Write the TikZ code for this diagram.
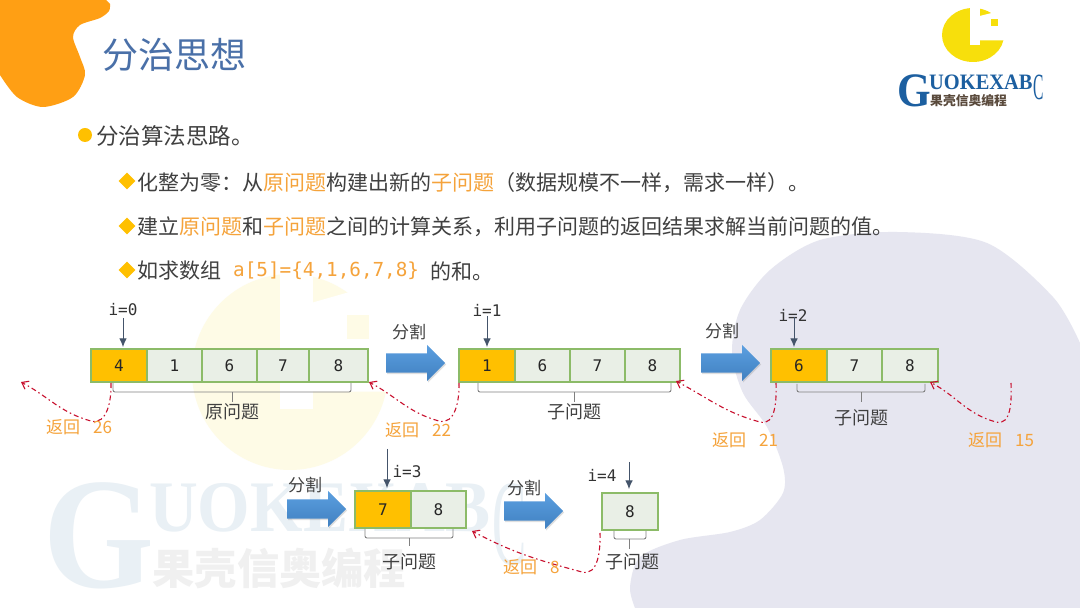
\documentclass[tikz,border=0pt]{standalone}
\usepackage{fontspec}
\setmainfont{Noto Sans CJK SC}
\setmonofont{DejaVu Sans Mono}
\newfontfamily\logofont{Liberation Serif}
\usepackage{xcolor}
\usetikzlibrary{arrows,arrows.meta}
\usetikzlibrary{shapes.arrows,shapes.geometric,shadows}
\tikzset{>=latex}
\definecolor{blobgrey}{HTML}{E6E6F0}
\definecolor{bloborange}{HTML}{FF9F14}
\definecolor{titleblue}{HTML}{4A70A8}
\definecolor{bodygrey}{HTML}{404040}
\definecolor{markyellow}{HTML}{FFC000}
\definecolor{hotorange}{HTML}{F5A33B}
\definecolor{cellgreen}{HTML}{E9EFE6}
\definecolor{edgegreen}{HTML}{8CBB68}
\definecolor{ptrblue}{HTML}{44546A}
\definecolor{retred}{HTML}{C8102E}
\definecolor{cuttop}{HTML}{5B9FE0}
\definecolor{cutbottom}{HTML}{4080C0}
\definecolor{wmblue}{HTML}{E9F0F5}
\definecolor{wmgrey}{HTML}{F0F0F0}
\definecolor{wmyellow}{HTML}{FEFBE6}
\definecolor{logoblue}{HTML}{1C5FA0}
\definecolor{logogrey}{HTML}{5A4A3C}
\definecolor{logoyellow}{HTML}{F7DF0C}
\tikzset{
  bodyline/.style={anchor=west, inner sep=0pt, text=bodygrey, font=\fontsize{21}{24}\selectfont},
  cellbox/.style={draw=edgegreen, line width=1.3pt, fill=cellgreen, inner sep=0pt, outer sep=0pt, text=black!85, font=\ttfamily\fontsize{16}{18}\selectfont},
  curbox/.style={cellbox, fill=markyellow},
  ptrlabel/.style={inner sep=0pt, text=black!80, font=\ttfamily\fontsize{16}{18}\selectfont},
  ptrline/.style={ptrblue, line width=0.9pt, -{Latex[length=8.5pt,width=7.5pt]}},
  cutlabel/.style={inner sep=0pt, text=bodygrey, font=\fontsize{17}{20}\selectfont},
  sublabel/.style={cutlabel, font=\fontsize{18}{20}\selectfont},
  retlabel/.style={inner sep=0pt, anchor=west, text=hotorange, font=\fontsize{17}{20}\selectfont},
  retline/.style={retred, line width=1.1pt, dash pattern=on 5pt off 3pt on 1.5pt off 3pt, -{Straight Barb[length=6pt,width=9pt]}},
  bracket/.style={draw=gray, line width=0.9pt, rounded corners=2pt},
  blockarrow/.style={shape=single arrow, anchor=tail, single arrow tip angle=90, single arrow head extend=8.5pt,
    minimum height=59pt, minimum width=36pt, inner xsep=0pt, inner ysep=9.5pt, top color=cuttop, bottom color=cutbottom,
    drop shadow={shadow xshift=1pt, shadow yshift=-1.5pt, opacity=.25, fill=gray}}
}
% dashed way back: start, lowest point, end
\newcommand{\returnline}[3]{
   \draw[retline] (#1) to[out=-88,in=-15] (#2) to[out=165,in=-28] (#3);
}
% square brace under an array
\newcommand{\subbrace}[6]{
   \draw[bracket] (#1,#3) -- (#1,#4) -- (#2,#4) -- (#2,#3);
   \draw[gray, line width=0.9pt] (#5,#4) -- (#5,#6);
}
% disc of the logo with its notch
\newcommand{\logodisc}[4]{
   \begin{scope}[shift={(#1)}, xscale=#2, yscale=#3]
     \fill[#4] (0,0) circle (1);
     \fill[white] (-0.1,1.02) rectangle (0.23,-0.38);
     \fill[white] (0.2,0.7) -- (0.62,0.82) -- (1.05,0.7) -- (1.05,-0.2) -- (0.2,-0.2) -- cycle;
     \fill[#4] (0.58,0.58) rectangle (0.81,0.34);
   \end{scope}
}
% lettering of the logo: prefix, origin, scale, blue, grey
\newcommand{\logotext}[5]{
   \begin{scope}[shift={(#2)}, scale=#3, transform shape]
     \node[anchor=base west, inner sep=0pt, text=#4, xscale=.9, font=\logofont\bfseries\fontsize{48}{50}\selectfont] (#1g) at (0,0) {G};
     \node[anchor=base west, inner sep=0pt, text=#4, xscale=.93, font=\logofont\bfseries\fontsize{22}{24}\selectfont] (#1u) at (32,17) {UOKEXAB};
     \node[anchor=base west, inner sep=0pt, text=#4, xscale=.42, font=\logofont\fontsize{37}{40}\selectfont] (#1c) at (136,7) {C};
     \node[anchor=west, inner sep=0pt, text=#5, font=\bfseries\fontsize{12.8}{14}\selectfont] (#1n) at (33,6) {果壳信奥编程};
   \end{scope}
}

\begin{document}
\begin{tikzpicture}[x=1pt,y=1pt]
		\useasboundingbox (0,0) rectangle (1080,608);
		\fill[white] (0,0) rectangle (1080,608);

		% Background
		\fill[blobgrey] plot[smooth] coordinates {(1080,265) (1053,311) (987,365) (897,376) (820,368) (770,338) (740,298) (732,255) (743,215) (767,181) (783,141) (783,115) (760,88) (730,76) (680,68) (640,51) (630,21) (635,0)} -- (1080,0) -- cycle;
		\fill[bloborange] (0,608) -- (106,608) -- plot[smooth] coordinates {(110,604) (109,597) (100,590) (80,583) (73,571) (80,551) (85,533) (73,511) (43,501) (17,511) (0,533)} -- cycle;
		\logodisc{290,236}{98}{98}{wmyellow}
		\logotext{wm}{43,20}{3.3}{wmblue}{wmgrey}

		% Logo
		\logodisc{973,573}{31}{27}{logoyellow}
		\logotext{lg}{897,501}{1}{logoblue}{logogrey}

		% Title and text
		\node[anchor=west, inner sep=0pt, text=titleblue, font=\fontsize{36}{40}\selectfont] (title) at (102,553) {分治思想};
		\node[circle, fill=markyellow, minimum size=14pt, inner sep=0pt] (dot) at (85,473) {};
		\node[bodyline, font=\fontsize{22.5}{26}\selectfont] (head) at (96,472) {分治算法思路。};
		\node[diamond, fill=markyellow, minimum size=17pt, inner sep=0pt] (dm1) at (127,427) {};
		\node[diamond, fill=markyellow, minimum size=17pt, inner sep=0pt] (dm2) at (127,382) {};
		\node[diamond, fill=markyellow, minimum size=17pt, inner sep=0pt] (dm3) at (127,338) {};
		\node[bodyline] (line1) at (137,425) {化整为零^^^^ff1a从\textcolor{hotorange}{原问题}构建出新的\textcolor{hotorange}{子问题}^^^^ff08数据规模不一样^^^^ff0c需求一样^^^^ff09。};
		\node[bodyline] (line2) at (137,381) {建立\textcolor{hotorange}{原问题}和\textcolor{hotorange}{子问题}之间的计算关系^^^^ff0c利用子问题的返回结果求解当前问题的值。};
		\node[bodyline] (line3) at (137,337) {如求数组};
		\node[bodyline, text=hotorange, font=\ttfamily\fontsize{19.3}{22}\selectfont] (code) at (233,337) {a[5]=\{4,1,6,7,8\}};
		\node[bodyline] (line3b) at (430,337) {的和。};

		% Arrays
		\foreach \nm/\xa/\xb/\val in {a1/147/202/1,a2/202/257/6,a3/257/309/7,a4/309/368/8,
		  b1/515/570/6,b2/570/625/7,b3/625/680/8,c1/827/882/7,c2/882/938/8}
		  \node[cellbox, minimum width={(\xb-\xa)*1pt}, minimum height=33pt] (\nm) at ({(\xa+\xb)/2},242.5) {\val};
		\foreach \nm/\xa/\xb/\val in {a0/91/147/4,b0/459/515/1,c0/771/827/6}
		  \node[curbox, minimum width={(\xb-\xa)*1pt}, minimum height=33pt] (\nm) at ({(\xa+\xb)/2},242.5) {\val};
		\node[cellbox, minimum width=55pt, minimum height=37pt] (d1) at (438.5,98.5) {8};
		\node[curbox, minimum width=56pt, minimum height=37pt] (d0) at (383,98.5) {7};
		\node[cellbox, minimum width=56pt, minimum height=37pt] (e0) at (630,96.5) {8};

		% Split arrows
		\node[blockarrow] (cut1) at (386,245) {};
		\node[blockarrow] (cut2) at (701,245) {};
		\node[blockarrow] (cut3) at (287,99) {};
		\node[blockarrow] (cut4) at (504,97) {};
		\node[cutlabel] (cutA) at (409,276) {分割};
		\node[cutlabel] (cutB) at (722,277) {分割};
		\node[cutlabel] (cutC) at (305,123) {分割};
		\node[cutlabel] (cutD) at (524,120) {分割};

		% Pointers
		\node[ptrlabel] (i0) at (123,298) {i=0};
		\node[ptrlabel] (i1) at (487,298) {i=1};
		\node[ptrlabel] (i2) at (793,293) {i=2};
		\node[ptrlabel] (i3) at (407,136) {i=3};
		\node[ptrlabel] (i4) at (602,133) {i=4};
		\foreach \nm/\xp/\ya/\yb in {0/123/290/261,1/487/292/261,2/794/291/261,3/387/159/120,4/629/146/119}{
		  \coordinate (pa\nm) at (\xp,\ya);
		  \coordinate (pb\nm) at (\xp,\yb);
		  \draw[ptrline] (pa\nm) -- (pb\nm);
		}

		% Braces
		\subbrace{113}{351}{225}{216}{232}{206}
		\subbrace{478}{671}{225}{216}{574}{206}
		\subbrace{797}{925}{224}{216}{861}{206}
		\subbrace{365}{453}{79}{70}{409}{62}
		\subbrace{614}{646}{77}{69}{629}{59}
		\node[sublabel] (subA) at (232,196) {原问题};
		\node[sublabel] (subB) at (574,196) {子问题};
		\node[sublabel] (subC) at (861,190) {子问题};
		\node[sublabel] (subD) at (409,46) {子问题};
		\node[sublabel] (subE) at (632,46) {子问题};

		% Way back
		\foreach \nm/\xa/\ya/\xb/\yb/\xc/\yc in {A/111/225/91/187/21/226,B/459/225/439/187/369/226,
		  C/776/225/760/186/676/227,D/1011/225/996/186/930/226,E/600/75/582/36/472/77}{
		  \coordinate (rs\nm) at (\xa,\ya);
		  \coordinate (rm\nm) at (\xb,\yb);
		  \coordinate (re\nm) at (\xc,\yc);
		  \returnline{rs\nm}{rm\nm}{re\nm}
		}
		\node[retlabel] (backA) at (46,181) {返回\hspace{13pt}26};
		\node[retlabel] (backB) at (385,178) {返回\hspace{13pt}22};
		\node[retlabel] (backC) at (712,168) {返回\hspace{13pt}21};
		\node[retlabel] (backD) at (968,168) {返回\hspace{13pt}15};
		\node[retlabel] (backE) at (503,41) {返回\hspace{13pt}8};
	\end{tikzpicture}
\end{document}
